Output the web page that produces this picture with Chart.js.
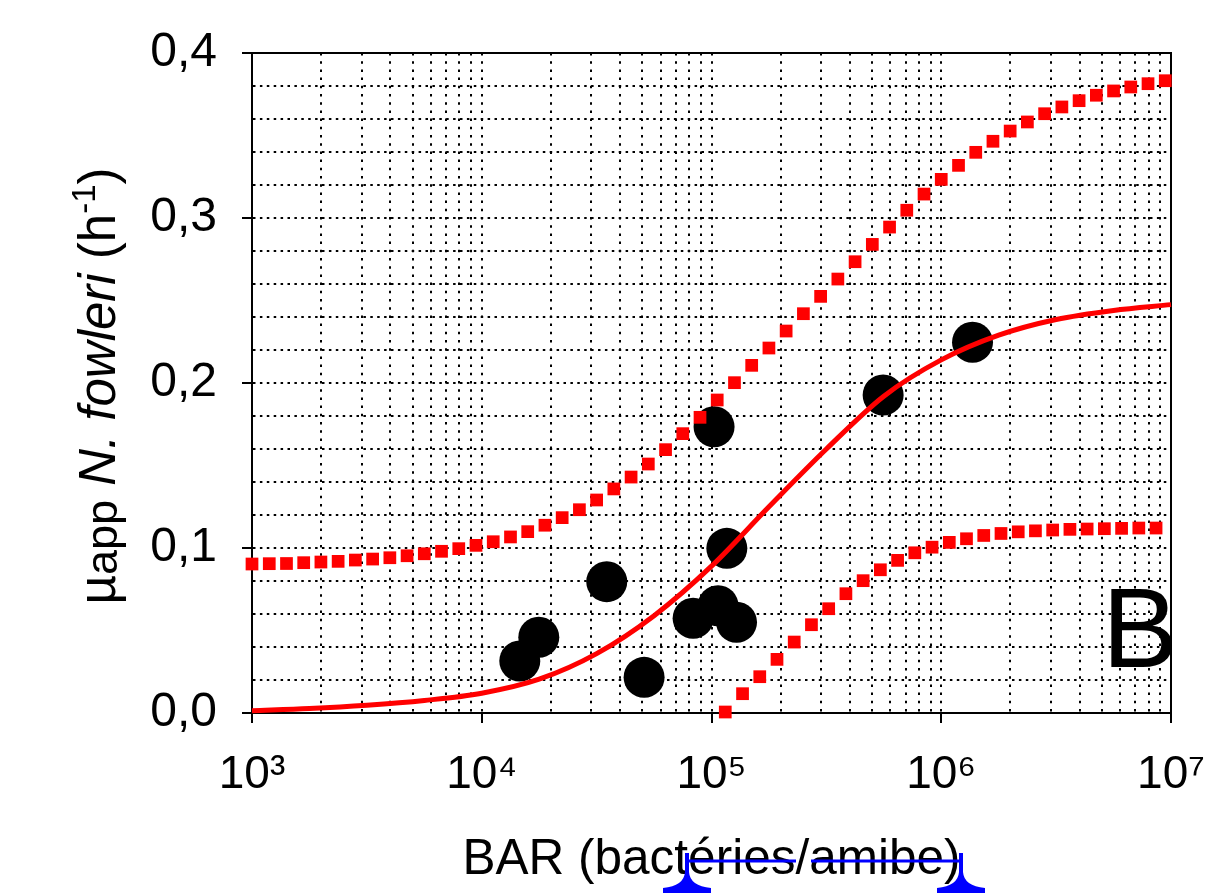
<!DOCTYPE html>
<html>
<head>
<meta charset="utf-8">
<script src="https://cdn.jsdelivr.net/npm/chart.js@4/dist/chart.umd.min.js"></script>
<style>
  html, body { margin: 0; padding: 0; background: #ffffff; }
  #wrap { width: 1210px; height: 893px; position: relative; }
</style>
</head>
<body>
<div id="wrap"><canvas id="c" width="1210" height="893"></canvas></div>
<script>
// ---------------- data ----------------
// fitted model curve (solid red line)
const fitX = [1000, 1778, 3162, 5623, 10000, 17783, 31623, 56234, 100000, 177828, 316228, 562341,
              1000000, 1778279, 3162278, 5623413, 10000000];
const fitY = [0.0014, 0.0027, 0.0047, 0.0076, 0.0120, 0.0205, 0.0360, 0.0590, 0.0890, 0.1250, 0.1600, 0.1920,
              0.2140, 0.2290, 0.2385, 0.2440, 0.2475];

// upper confidence band (red square dots)
const upperX = [1000, 1189, 1413, 1679, 1995, 2371, 2818, 3350, 3981, 4732, 5623, 6683, 7943, 9441,
                11220, 13340, 15850, 18840, 22390, 26610, 31620, 37580, 44670, 53090, 63100, 74990, 89130,
                105900, 125900, 149600, 177800, 211300, 251200, 298500, 354800, 421700, 501200, 595700,
                707900, 841400, 1000000, 1189000, 1413000, 1679000, 1995000, 2371000, 2818000, 3350000,
                3981000, 4732000, 5623000, 6683000, 7943000, 9441000];
const upperY = [0.0903, 0.0905, 0.0906, 0.0911, 0.0915, 0.0919, 0.0927, 0.0933, 0.0941, 0.0953, 0.0965,
                0.0980, 0.0996, 0.1016, 0.1038, 0.1067, 0.1099, 0.1138, 0.1184, 0.1232, 0.1291, 0.1358,
                0.1430, 0.1509, 0.1596, 0.1693, 0.1792, 0.1897, 0.2002, 0.2107, 0.2212, 0.2315, 0.2420,
                0.2525, 0.2630, 0.2735, 0.2840, 0.2945, 0.3047, 0.3145, 0.3234, 0.3319, 0.3398, 0.3465,
                0.3527, 0.3582, 0.3632, 0.3673, 0.3711, 0.3744, 0.3770, 0.3794, 0.3814, 0.3832];

// lower confidence band (red square dots)
const lowerX = [114800, 136500, 162200, 192800, 229100, 272300, 323600, 384600, 457100, 543300, 645700,
                767400, 912000, 1084000, 1288000, 1531000, 1820000, 2163000, 2570000, 3055000, 3631000,
                4315000, 5129000, 6095000, 7244000, 8610000];
const lowerY = [0.0006, 0.0117, 0.0220, 0.0325, 0.0430, 0.0535, 0.0632, 0.0723, 0.0802, 0.0868, 0.0925,
                0.0971, 0.1005, 0.1034, 0.1056, 0.1076, 0.1088, 0.1098, 0.1104, 0.1109, 0.1113, 0.1115,
                0.1117, 0.1119, 0.1121, 0.1121];

// measured points (black circles)
const obsX = [14640, 17710, 35000, 50890, 83170, 102600, 106800, 116600, 128500, 558600, 1368000];
const obsY = [0.0315, 0.0459, 0.0796, 0.0216, 0.0574, 0.1735, 0.0650, 0.0998, 0.0550, 0.1927, 0.2247];

// axes
const xDecades = [1000, 10000, 100000, 1000000, 10000000];
const xDecadeLabels = ['10\u00B3', '10\u2074', '10\u2075', '10\u2076', '10\u2077'];
const xMinorMultipliers = [2, 3, 4, 5, 6, 7, 8, 9];
const yMajorLabels = ['0,0', '0,1', '0,2', '0,3', '0,4'];
const xTitleText = 'BAR (bactéries/amibe)';
const yTitleParts = ['\u00B5', 'app', ' ', 'N. fowleri', ' (h', '-1', ')'];
const panelLetter = 'B';

// ---------------- rendering ----------------
const FONT = "'Liberation Sans', Arial, Helvetica, sans-serif";
const pts = (xs, ys) => xs.map((x, i) => ({ x: x, y: ys[i] }));
const isDecade = (v) => xDecades.indexOf(v) >= 0;
const isYMajor = (v) => Math.abs(v * 10 - Math.round(v * 10)) < 1e-6;

const decor = {
  id: 'decor',
  beforeDatasetsDraw(chart) {
    const { ctx, chartArea: a } = chart;
    ctx.save();
    ctx.strokeStyle = '#000';
    ctx.lineWidth = 2;
    ctx.beginPath();
    ctx.moveTo(a.left - 1, a.top);
    ctx.lineTo(a.right, a.top);
    ctx.lineTo(a.right, a.bottom + 1);
    ctx.stroke();
    ctx.restore();
  },
  afterDraw(chart) {
    const { ctx, chartArea: a } = chart;
    ctx.save();
    // panel letter
    ctx.fillStyle = '#000';
    ctx.font = '114px ' + FONT;
    ctx.textAlign = 'left';
    ctx.textBaseline = 'alphabetic';
    ctx.fillText(panelLetter, a.right - 69, a.bottom - 46);

    // rotated y-axis title with mixed styles
    const styles = [
      { f: '51px ' + FONT, dy: 0 },
      { f: '45px ' + FONT, dy: 2 },
      { f: '51px ' + FONT, dy: 0 },
      { f: 'italic 51px ' + FONT, dy: 0 },
      { f: '51px ' + FONT, dy: 0 },
      { f: '33px ' + FONT, dy: -20 },
      { f: '51px ' + FONT, dy: 0 }
    ];
    let total = 0;
    const widths = yTitleParts.map((t, i) => { ctx.font = styles[i].f; const w = ctx.measureText(t).width; total += w; return w; });
    ctx.translate(115, (a.top + a.bottom) / 2 + 3);
    ctx.rotate(-Math.PI / 2);
    let x = -total / 2;
    yTitleParts.forEach((t, i) => {
      ctx.font = styles[i].f;
      ctx.fillText(t, x, styles[i].dy);
      x += widths[i];
    });
    ctx.restore();

    // blue proofing marks under the x title
    ctx.save();
    ctx.strokeStyle = '#0000ff';
    ctx.fillStyle = '#0000ff';
    ctx.lineWidth = 3;
    ctx.beginPath();
    ctx.moveTo(689, 861); ctx.lineTo(796, 861);
    ctx.moveTo(811, 861); ctx.lineTo(960, 861);
    ctx.stroke();
    const foot = (cx, half) => {
      ctx.beginPath();
      ctx.moveTo(cx - 2, 853);
      ctx.lineTo(cx - 2, 872);
      ctx.quadraticCurveTo(cx - 3, 886, cx - half, 888);
      ctx.lineTo(cx - half, 893);
      ctx.lineTo(cx + half, 893);
      ctx.lineTo(cx + half, 888);
      ctx.quadraticCurveTo(cx + 3, 886, cx + 2, 872);
      ctx.lineTo(cx + 2, 853);
      ctx.closePath();
      ctx.fill();
    };
    foot(687, 24);
    foot(961, 24);
    ctx.restore();
  }
};

new Chart(document.getElementById('c'), {
  type: 'scatter',
  data: {
    datasets: [
      {
        label: 'modèle',
        data: pts(fitX, fitY),
        showLine: true,
        borderColor: '#ff0000',
        borderWidth: 5,
        pointRadius: 0,
        cubicInterpolationMode: 'monotone',
        order: 0,
        clip: false
      },
      {
        label: 'borne sup.',
        data: pts(upperX, upperY),
        showLine: false,
        pointStyle: 'rect',
        pointRadius: 9,
        pointBackgroundColor: '#ff0000',
        pointBorderWidth: 0,
        order: 1,
        clip: false
      },
      {
        label: 'borne inf.',
        data: pts(lowerX, lowerY),
        showLine: false,
        pointStyle: 'rect',
        pointRadius: 9,
        pointBackgroundColor: '#ff0000',
        pointBorderWidth: 0,
        order: 1,
        clip: false
      },
      {
        label: 'mesures',
        data: pts(obsX, obsY),
        showLine: false,
        pointStyle: 'circle',
        pointRadius: 20.5,
        pointBackgroundColor: '#000000',
        pointBorderWidth: 0,
        order: 2,
        clip: false
      }
    ]
  },
  options: {
    responsive: false,
    animation: false,
    events: [],
    devicePixelRatio: 1,
    layout: { padding: { left: 0, right: 39, top: 53, bottom: 0 } },
    plugins: { legend: { display: false }, tooltip: { enabled: false } },
    scales: {
      x: {
        type: 'logarithmic',
        min: 1000,
        max: 10000000,
        afterBuildTicks(scale) {
          const t = [];
          xDecades.forEach((d, i) => {
            t.push({ value: d, major: true });
            if (i < xDecades.length - 1) xMinorMultipliers.forEach(m => t.push({ value: d * m, major: false }));
          });
          scale.ticks = t;
        },
        afterFit(scale) { scale.height = 180; scale.paddingLeft = 0; scale.paddingRight = 0; },
        ticks: {
          autoSkip: false,
          maxRotation: 0,
          minRotation: 0,
          padding: 25,
          color: '#000',
          font: { family: FONT, size: 46 },
          callback(v) { const i = xDecades.indexOf(v); return i >= 0 ? xDecadeLabels[i] : ''; }
        },
        grid: {
          color: '#000',
          lineWidth: 2,
          tickLength: 10,
          tickWidth: 2,
          tickColor: (c) => (c.tick && isDecade(c.tick.value)) ? '#000' : 'rgba(0,0,0,0)'
        },
        border: { display: true, color: '#000', width: 2, dash: [2.5, 5.7] },
        title: {
          display: true,
          text: xTitleText,
          color: '#000',
          font: { family: FONT, size: 49.5 },
          padding: { top: 4, bottom: 3 }
        }
      },
      y: {
        type: 'linear',
        min: 0,
        max: 0.4,
        afterFit(scale) { scale.width = 252; scale.paddingTop = 0; scale.paddingBottom = 0; },
        ticks: {
          stepSize: 0.02,
          autoSkip: false,
          padding: 25,
          color: '#000',
          font: { family: FONT, size: 48 },
          callback(v) { return isYMajor(v) ? yMajorLabels[Math.round(v * 10)] : ''; }
        },
        grid: {
          color: '#000',
          lineWidth: 2,
          tickLength: 10,
          tickWidth: 2,
          tickColor: (c) => (c.tick && isYMajor(c.tick.value)) ? '#000' : 'rgba(0,0,0,0)'
        },
        border: { display: true, color: '#000', width: 2, dash: [2.5, 4.4] }
      }
    }
  },
  plugins: [decor]
});
</script>
</body>
</html>
